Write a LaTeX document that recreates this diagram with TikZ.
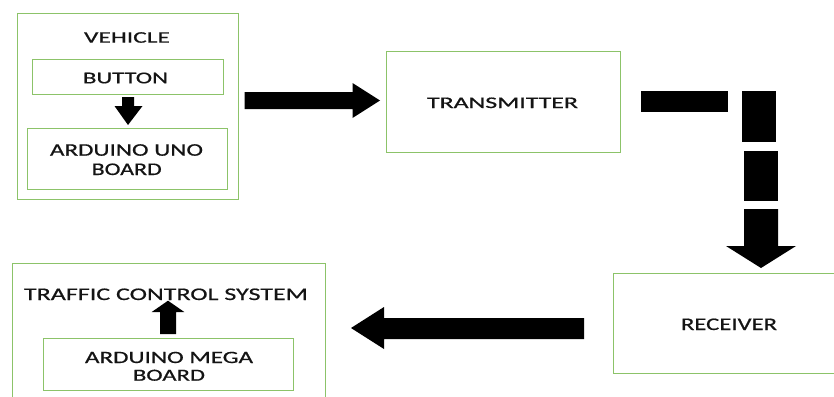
\documentclass[tikz,border=0pt]{standalone}
\usepackage{fontspec}
\setmainfont{Carlito}
\newfontfamily\lblfont{Carlito}[FakeBold=0.6]
\usepackage{graphicx}
\definecolor{boxgreen}{RGB}{140,195,105}
\definecolor{txt}{RGB}{20,20,20}
\newcommand{\fitt}[3]{\resizebox{#1pt}{#2pt}{#3}}
\begin{document}
\begin{tikzpicture}[x=1pt,y=-1pt,
  box/.style={draw=boxgreen,line width=1pt,inner sep=0pt,outer sep=0pt,rectangle},
  lbl/.style={anchor=base,inner sep=0pt,outer sep=0pt,text=txt,font=\lblfont},
  blk/.style={fill=black,draw=none}]
\useasboundingbox (0,0) rectangle (834,396);
\clip (0,0) rectangle (834,396);
% boxes
\node[box,minimum width=221pt,minimum height=185pt] (vehicle) at (127.5,106.5) {};
\node[box,minimum width=191pt,minimum height=35pt] (button) at (127.5,76.5) {};
\node[box,minimum width=200pt,minimum height=61pt] (uno) at (127,158.5) {};
\node[box,minimum width=234pt,minimum height=100pt] (transmitter) at (503,102) {};
\node[box,minimum width=232pt,minimum height=100pt] (receiver) at (729,323) {};
\node[box,minimum width=313pt,minimum height=157pt] (traffic) at (168.5,341.5) {};
\node[box,minimum width=250pt,minimum height=52pt] (mega) at (168,364) {};
% labels
\node[lbl] (tveh) at (127,42.7) {\fitt{86}{10.5}{VEHICLE}};
\node[lbl] (tbut) at (125.5,83.3) {\fitt{85}{10.7}{BUTTON}};
\node[lbl] (tuno1) at (126.5,155.7) {\fitt{153}{11.5}{ARDUINO UNO}};
\node[lbl] (tuno2) at (126.7,175) {\fitt{70}{11.5}{BOARD}};
\node[lbl] (ttx) at (502.5,108) {\fitt{151}{10.5}{TRANSMITTER}};
\node[lbl] (trx) at (729,330) {\fitt{96}{11.5}{RECEIVER}};
\node[lbl] (ttcs) at (166,300) {\fitt{284}{11.5}{TRAFFIC CONTROL SYSTEM}};
\node[lbl] (tmega1) at (169,363) {\fitt{168}{11.2}{ARDUINO MEGA}};
\node[lbl] (tmega2) at (169,380.7) {\fitt{72}{11}{BOARD}};
% block arrows
\fill[blk] (122,97) -- (134,97) -- (134,106) -- (142.5,106) -- (128,125) -- (114.5,106) -- (122,106) -- cycle;
\fill[blk] (244.5,92) -- (352.5,92) -- (352.5,83) -- (380,100.5) -- (352.5,118) -- (352.5,109) -- (244.5,109) -- cycle;
\fill[blk] (641,91) rectangle (727.5,112);
\fill[blk] (742,91) rectangle (776,142);
\fill[blk] (744,151) rectangle (778,201);
\fill[blk] (744,209) -- (778,209) -- (778,246) -- (796,246) -- (761,268) -- (726,246) -- (744,246) -- cycle;
\fill[blk] (584,318) -- (384,318) -- (384,307) -- (351,328) -- (384,349) -- (384,339) -- (584,339) -- cycle;
\fill[blk] (160,334) -- (160,312) -- (151.7,312) -- (168,300.7) -- (184.3,312) -- (176,312) -- (176,334) -- cycle;
\end{tikzpicture}
\end{document}
